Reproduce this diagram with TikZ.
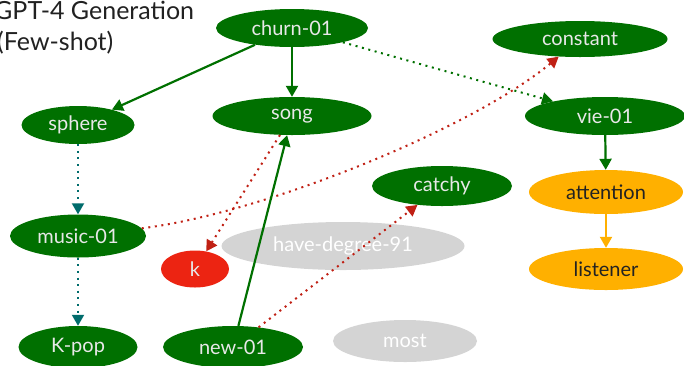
\documentclass[tikz,border=0pt]{standalone}
\usepackage{fontspec}
\setmainfont{Lato}
\usetikzlibrary{arrows.meta,shapes.geometric}
\definecolor{gfill}{RGB}{0,112,0}
\definecolor{gtext}{RGB}{232,232,232}
\definecolor{ofill}{RGB}{255,176,0}
\definecolor{otext}{RGB}{34,34,34}
\definecolor{rfill}{RGB}{236,36,18}
\definecolor{gyfill}{RGB}{212,212,212}
\definecolor{teal2}{RGB}{0,108,108}
\definecolor{dred}{RGB}{192,32,20}
\begin{document}
\begin{tikzpicture}[x=1pt,y=-1pt,
  el/.style 2 args={ellipse, draw=none, inner sep=0pt, minimum width=#1, minimum height=#2, font=\fontsize{20}{24}\selectfont},
  gnode/.style={fill=gfill, text=gtext},
  onode/.style={fill=ofill, text=otext},
  rnode/.style={fill=rfill, text=gtext},
  gynode/.style={fill=gyfill, text=white},
  tip/.style={-{Triangle[width=12pt,length=11pt]}},
  gsolid/.style={tip, draw=gfill, line width=2.2pt},
  osolid/.style={tip, draw=ofill, line width=2.2pt},
  dots/.style={tip, line width=2pt, dash pattern=on 2pt off 4.6pt},
  tdot/.style={dots, draw=teal2},
  rdot/.style={dots, draw=dred},
  gdot/.style={dots, draw=gfill},
  ttl/.style={anchor=base west, font=\fontsize{25}{30}\selectfont, text=black!87, inner sep=0pt}
]
\useasboundingbox (0,0) rectangle (684,365);
\clip (0,0) rectangle (684,365);

\node[ttl] (t1) at (-6,19) {GPT-4 Generation};
\node[ttl] (t2) at (-3,50) {(Few-shot)};

\node[el={152}{38}, gnode] (churn) at (292,28) {churn-01};
\node[el={175}{36}, gnode] (constant) at (580,39) {constant};
\node[el={113}{38}, gnode] (sphere) at (78,125) {sphere};
\node[el={159}{38}, gnode] (song) at (292,116) {song};
\node[el={160}{38}, gnode] (vie) at (605,116) {vie-01};
\node[el={140}{40}, gnode] (catchy) at (442,186) {catchy};
\node[el={154}{44}, onode] (attention) at (606,192) {attention};
\node[el={136}{43}, gnode] (music) at (78,236) {music-01};
\node[el={243}{48}, gynode] (hd) at (343,246) {have-degree-91};
\node[el={68}{37}, rnode] (k) at (195,269) {k};
\node[el={154}{42}, onode] (listener) at (606,269) {listener};
\node[el={119}{42}, gnode] (kpop) at (78,347) {K-pop};
\node[el={140}{42}, gnode] (new) at (233,347) {new-01};
\node[el={144}{42}, gynode] (most) at (405,341) {most};

\draw[gsolid] (churn) -- (sphere);
\draw[gsolid] (churn) -- (song);
\draw[gdot] (churn) -- (vie);
\draw[tdot] (sphere) -- (music);
\draw[tdot] (music) -- (kpop);
\draw[rdot] (music) .. controls (260,214) and (470,130) .. (constant);
\draw[rdot] (song) -- (k);
\draw[gsolid] (new) -- (song);
\draw[rdot] (new) -- (catchy);
\draw[gsolid] (vie) -- (attention);
\draw[osolid] (attention) -- (listener);
\end{tikzpicture}
\end{document}
